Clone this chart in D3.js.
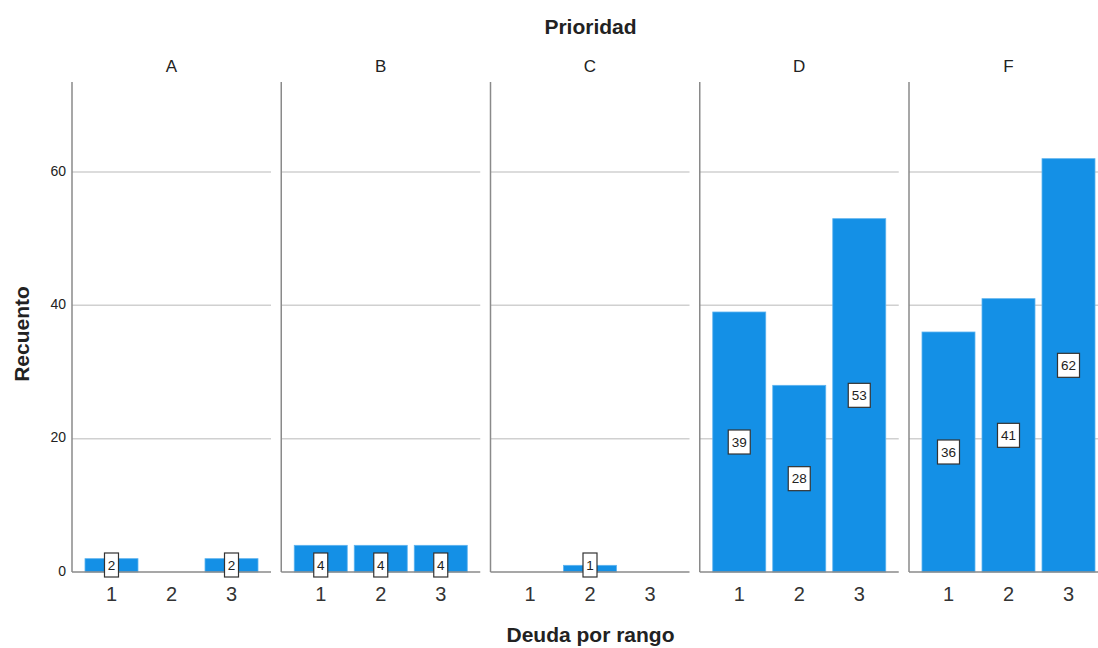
<!DOCTYPE html>
<html>
<head>
<meta charset="utf-8">
<script src="https://cdn.jsdelivr.net/npm/d3@7"></script>
<style>
  body { margin: 0; background: #fff; }
  text { font-family: "Liberation Sans", Arial, sans-serif; fill: #222; }
</style>
</head>
<body>
<svg id="chart" width="1098" height="648"></svg>
<script>
// data
var panels = ['A', 'B', 'C', 'D', 'F'];
var rangos = ['1', '2', '3'];
var counts = {
    A: [2, 0, 2],
    B: [4, 4, 4],
    C: [0, 1, 0],
    D: [39, 28, 53],
    F: [36, 41, 62]
};
var yTicks = [0, 20, 40, 60];

var svg = d3.select('#chart');
var plotTop = 82, plotBottom = 572;
var panelW = 199, panelStep = 209.25, left0 = 72;

var y = d3.scaleLinear().domain([0, 73.5]).range([plotBottom, plotTop]);
var px = d3.scaleBand().domain(panels).range([left0, left0 + panels.length * panelStep]);
var x = d3.scaleBand().domain(rangos).range([13, 186]).paddingInner(0.117).paddingOuter(0);

// y axis labels
svg.append('g')
    .selectAll('text')
    .data(yTicks)
    .enter().append('text')
    .attr('x', left0 - 6)
    .attr('y', function (d) { return y(d); })
    .attr('text-anchor', 'end')
    .attr('dominant-baseline', 'middle')
    .style('font-size', '14px')
    .text(function (d) { return d; });

var panel = svg.selectAll('g.panel')
    .data(panels)
    .enter().append('g')
    .classed('panel', true)
    .attr('transform', function (d) { return 'translate(' + px(d) + ',0)'; });

function rows(p) {
    return counts[p].map(function (v, i) { return { r: rangos[i], v: v }; })
        .filter(function (d) { return d.v > 0; });
}

// gridlines
panel.selectAll('line.grid')
    .data(yTicks.slice(1))
    .enter().append('line')
    .classed('grid', true)
    .attr('x1', 0).attr('x2', panelW)
    .attr('y1', function (d) { return y(d); })
    .attr('y2', function (d) { return y(d); })
    .attr('stroke', '#d0d0d0')
    .attr('stroke-width', 1.5);

// bars
panel.selectAll('rect.bar')
    .data(rows)
    .enter().append('rect')
    .classed('bar', true)
    .attr('x', function (d) { return x(d.r); })
    .attr('width', x.bandwidth())
    .attr('y', function (d) { return y(d.v); })
    .attr('height', function (d) { return plotBottom - y(d.v); })
    .attr('fill', '#1490e6')
    .attr('stroke', '#5db3ef')
    .attr('stroke-width', 0.8);

// axis lines
panel.append('line')
    .attr('x1', 0).attr('x2', 0)
    .attr('y1', plotTop).attr('y2', plotBottom)
    .attr('stroke', '#8a8a8a').attr('stroke-width', 1.5);
panel.append('line')
    .attr('x1', 0).attr('x2', panelW)
    .attr('y1', plotBottom).attr('y2', plotBottom)
    .attr('stroke', '#8a8a8a').attr('stroke-width', 1.5);

// value labels
var lab = panel.selectAll('g.lab')
    .data(rows)
    .enter().append('g')
    .classed('lab', true)
    .attr('transform', function (d) {
        var cy = d.v > 5 ? y(d.v / 2) : plotBottom - 7;
        return 'translate(' + (x(d.r) + x.bandwidth() / 2) + ',' + cy + ')';
    });
lab.append('rect')
    .attr('x', function (d) { return String(d.v).length > 1 ? -11 : -7; })
    .attr('width', function (d) { return String(d.v).length > 1 ? 22 : 14; })
    .attr('y', -12).attr('height', 24)
    .attr('fill', '#fff')
    .attr('stroke', '#333')
    .attr('stroke-width', 1.2);
lab.append('text')
    .attr('text-anchor', 'middle')
    .attr('dominant-baseline', 'central')
    .style('font-size', '13.5px')
    .text(function (d) { return d.v; });

// x tick labels
panel.selectAll('text.xt')
    .data(rangos)
    .enter().append('text')
    .classed('xt', true)
    .attr('x', function (d) { return x(d) + x.bandwidth() / 2; })
    .attr('y', 601)
    .attr('text-anchor', 'middle')
    .style('font-size', '20px')
    .style('fill', '#333')
    .text(function (d) { return d; });

// panel headers
panel.append('text')
    .attr('x', panelW / 2)
    .attr('y', 72)
    .attr('text-anchor', 'middle')
    .style('font-size', '17px')
    .text(function (d) { return d; });

// titles
svg.append('text')
    .attr('x', 590.5).attr('y', 34)
    .attr('text-anchor', 'middle')
    .style('font-size', '21px').style('font-weight', 'bold')
    .text('Prioridad');
svg.append('text')
    .attr('x', 590.5).attr('y', 642)
    .attr('text-anchor', 'middle')
    .style('font-size', '21px').style('font-weight', 'bold')
    .text('Deuda por rango');
svg.append('text')
    .attr('transform', 'translate(29,334) rotate(-90)')
    .attr('text-anchor', 'middle')
    .style('font-size', '21px').style('font-weight', 'bold')
    .text('Recuento');
</script>
</body>
</html>
